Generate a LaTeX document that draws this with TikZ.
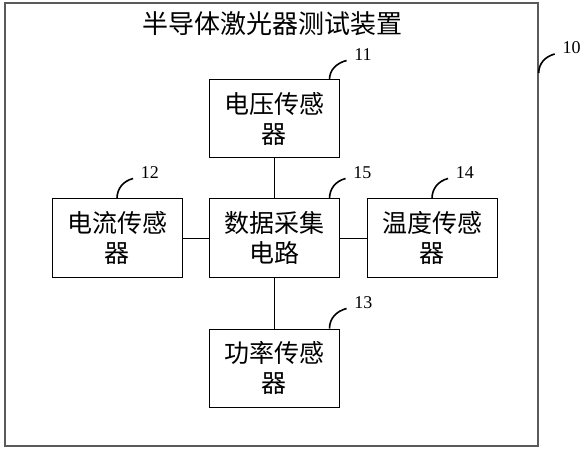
\documentclass[tikz,border=0pt]{standalone}
\usepackage{fontspec}
\setmainfont{Liberation Serif}
\newfontfamily\cjk{Noto Sans CJK SC}
\usetikzlibrary{positioning}
\definecolor{edge}{HTML}{5A5A5A}

\begin{document}
\begin{tikzpicture}[x=1pt,y=1pt, node distance=40pt and 26pt, every node/.style={align=center}, box/.style={draw,line width=1pt,minimum width=130pt,minimum height=78pt,font=\cjk\fontsize{25}{30}\selectfont}, lead/.style={line width=1.6pt}, num/.style={font=\fontsize{18}{20}\selectfont,anchor=base west,inner xsep=7pt,inner ysep=0pt}]
\useasboundingbox (0,0) rectangle (585,450);
\node[draw=edge,line width=1.4pt,minimum width=533pt,minimum height=443pt,inner sep=0pt] (dev) at (271.5,225.5) {};
\node[font=\cjk\fontsize{26}{30}\selectfont] (title) at (272,426) {半导体激光器测试装置};
\node[box] (daq) at (274,212) {数据采集\\电路};
\node[box,above=of daq] (volt) {电压传感\\器};
\node[box,left=of daq] (cur) {电流传感\\器};
\node[box,right=27pt of daq] (temp) {温度传感\\器};
\node[box,below=51pt of daq] (pow) {功率传感\\器};
\draw[line width=1pt] (volt)--(daq);\draw[line width=1pt] (daq)--(pow);
\draw[line width=1pt] (cur)--(daq);\draw[line width=1pt] (daq)--(temp);
\draw[lead] ([yshift=151.5pt]dev.east) to[out=90,in=195] ++(16,19) node[num] (l10) {10};
\draw[lead] ([xshift=-10pt]volt.north east) to[out=90,in=195] ++(17,19) node[num] (l11) {11};
\draw[lead] (cur.north) to[out=90,in=195] ++(16,20) node[num] (l12) {12};
\draw[lead] ([xshift=-10pt]pow.north east) to[out=90,in=195] ++(17,20) node[num] (l13) {13};
\draw[lead] (temp.north) to[out=90,in=195] ++(16,20) node[num] (l14) {14};
\draw[lead] ([xshift=-10pt]daq.north east) to[out=90,in=195] ++(16,20) node[num] (l15) {15};
\end{tikzpicture}
\end{document}
